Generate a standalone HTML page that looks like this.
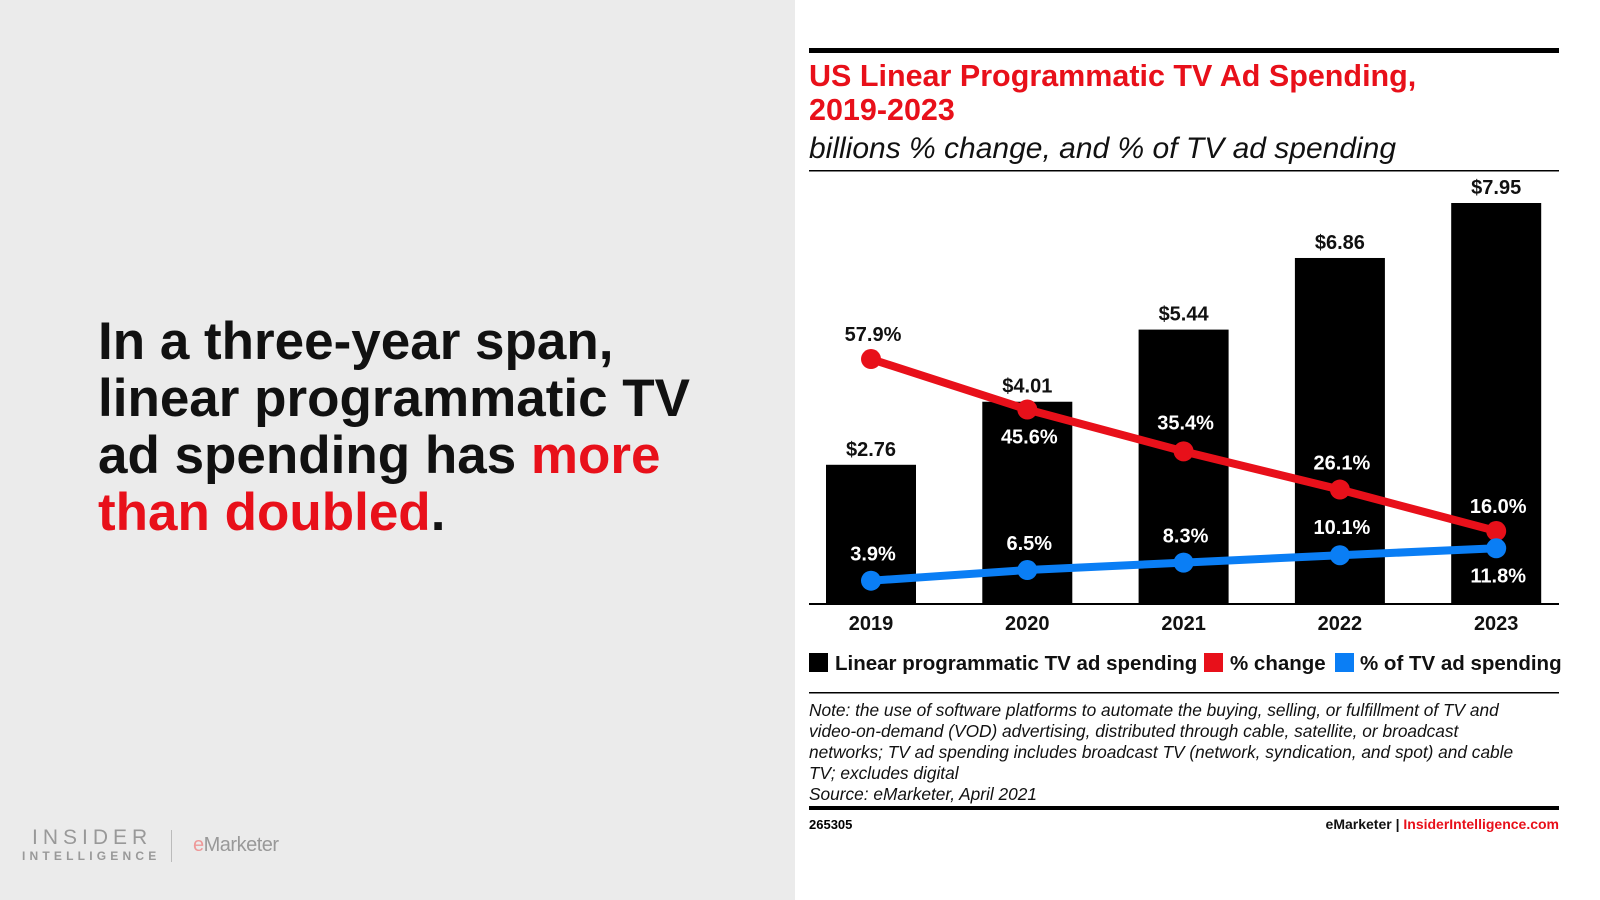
<!DOCTYPE html>
<html><head><meta charset="utf-8"><style>
body{margin:0;width:1600px;height:900px;position:relative;overflow:hidden;font-family:"Liberation Sans",sans-serif;background:#fff}
.left{position:absolute;left:0;top:0;width:795px;height:900px;background:#ebebeb}
.head{position:absolute;left:98px;top:313px;font-size:53px;font-weight:bold;line-height:57px;color:#111;letter-spacing:0px}
.red{color:#e8101a}
</style></head><body>
<div class="left">
<div class="head">In a three-year span,<br>linear programmatic TV<br>ad spending has <span class="red">more<br>than doubled</span>.</div>
<div style="position:absolute;left:32px;top:826px;color:#999;font-size:21px;letter-spacing:5px">INSIDER</div>
<div style="position:absolute;left:22px;top:849px;color:#999;font-size:12px;letter-spacing:4.2px;font-weight:bold">INTELLIGENCE</div>
<div style="position:absolute;left:171px;top:830px;width:1px;height:32px;background:#bbb"></div>
<div style="position:absolute;left:193px;top:834px;color:#999;font-size:20px;letter-spacing:-0.5px"><span style="color:#e99">e</span>Marketer</div>
</div>
<svg width="1600" height="900" style="position:absolute;left:0;top:0" font-family="Liberation Sans, sans-serif" id="chart">
<rect x="809" y="48" width="750" height="5" fill="#000"/>
<text x="809" y="86" fill="#e8101a" font-size="30.5" font-weight="bold">US Linear Programmatic TV Ad Spending,</text>
<text x="809" y="120" fill="#e8101a" font-size="30.5" font-weight="bold">2019-2023</text>
<text x="809" y="158" fill="#111" font-size="30" font-style="italic">billions % change, and % of TV ad spending</text>
<rect x="809" y="170" width="750" height="1.5" fill="#000"/>
<g id="marks"></g>
<rect x="809" y="603" width="750" height="2" fill="#000"/>
<g font-size="20.5" font-weight="bold" fill="#111">
<rect x="809" y="653" width="19" height="19" fill="#000"/><text x="835" y="670">Linear programmatic TV ad spending</text>
<rect x="1204" y="653" width="19" height="19" fill="#e8101a"/><text x="1230" y="670">% change</text>
<rect x="1335" y="653" width="19" height="19" fill="#0a7ef5"/><text x="1360" y="670">% of TV ad spending</text>
</g>
<rect x="809" y="692" width="750" height="1.5" fill="#000"/>
<g font-size="17.3" font-style="italic" fill="#111">
<text x="809" y="716">Note: the use of software platforms to automate the buying, selling, or fulfillment of TV and</text>
<text x="809" y="737">video-on-demand (VOD) advertising, distributed through cable, satellite, or broadcast</text>
<text x="809" y="758">networks; TV ad spending includes broadcast TV (network, syndication, and spot) and cable</text>
<text x="809" y="779">TV; excludes digital</text>
<text x="809" y="800">Source: eMarketer, April 2021</text>
</g>
<rect x="809" y="806" width="750" height="4" fill="#000"/>
<text x="809" y="829" font-size="13" font-weight="bold">265305</text>
<text x="1559" y="829" font-size="14" font-weight="bold" text-anchor="end"><tspan fill="#111">eMarketer  |  </tspan><tspan fill="#e8101a">InsiderIntelligence.com</tspan></text>
</svg>
<script>
const years=["2019","2020","2021","2022","2023"];
const spending=[2.76,4.01,5.44,6.86,7.95];
const pctChange=[57.9,45.6,35.4,26.1,16.0];
const pctTV=[3.9,6.5,8.3,10.1,11.8];
const redOff=[-18,34,-22,-20,-18];
const blueOff=[-20,-20,-20,-21,34];
const NS="http://www.w3.org/2000/svg";
const g=document.getElementById('marks');
const xS=i=>871+i*156.3;
const yBar=v=>604-v*50.44;
const yPct=v=>596.7-v*4.105;
function mk(t,a,txt){const e=document.createElementNS(NS,t);for(const k in a)e.setAttribute(k,a[k]);if(txt!=null)e.textContent=txt;g.appendChild(e);return e;}
years.forEach((y,i)=>{
 const b=mk('rect',{x:xS(i)-45,y:yBar(spending[i]),width:90,height:604-yBar(spending[i]),fill:'#000'});
 
 
 const l=mk('text',{x:xS(i),y:yBar(spending[i])-9,'text-anchor':'middle','font-size':20,'font-weight':'bold',fill:'#111'},'$'+spending[i].toFixed(2));
 
 
 const t=mk('text',{x:xS(i),y:630,'text-anchor':'middle','font-size':20,'font-weight':'bold',fill:'#111'},y);
 
 
});
function series(vals,color,name,off){
 const pl=mk('polyline',{points:vals.map((v,i)=>xS(i)+','+yPct(v)).join(' '),fill:'none',stroke:color,'stroke-width':8});
 
 
 vals.forEach((v,i)=>{
  const c=mk('circle',{cx:xS(i),cy:yPct(v),r:10,fill:color});
  
  
  const inside=yPct(v)+off[i]>yBar(spending[i])+5;
  const t=mk('text',{x:xS(i)+2,y:yPct(v)+off[i],'text-anchor':'middle','font-size':20,'font-weight':'bold',fill:inside?'#fff':'#111'},v.toFixed(1)+'%');
  
  
 });
}
series(pctChange,'#e8101a','pct-change',redOff);
series(pctTV,'#0a7ef5','pct-tv',blueOff);
</script>
</body></html>
